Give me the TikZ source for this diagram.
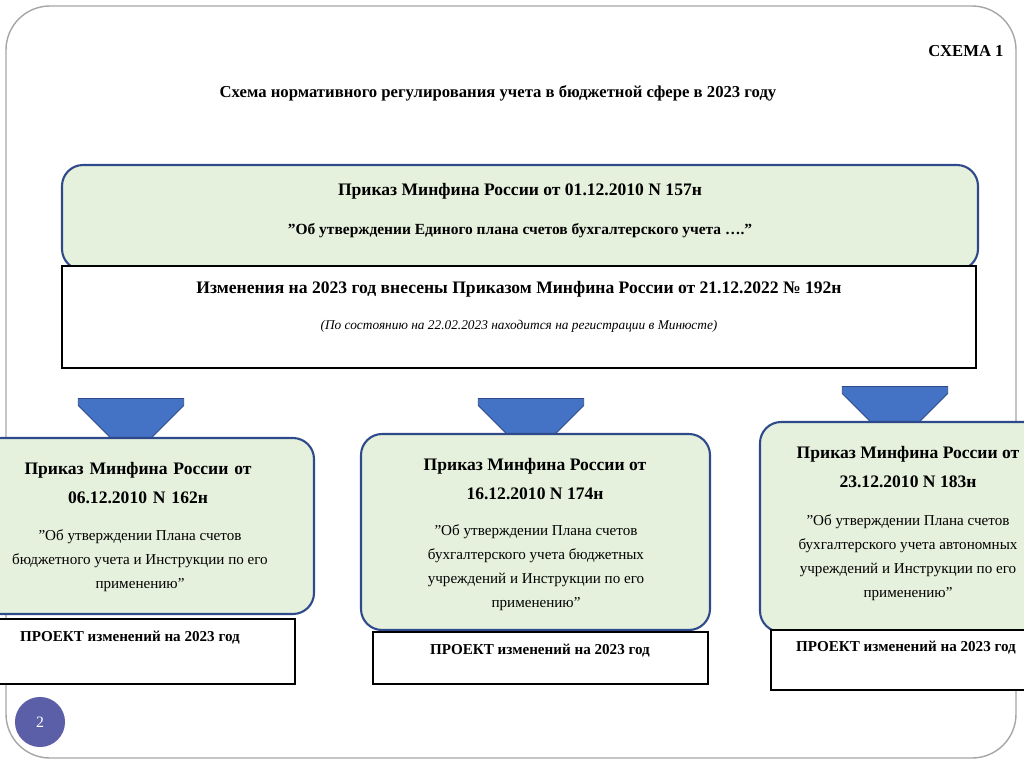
\documentclass[tikz,border=0pt]{standalone}
\usepackage{fontspec}
\setmainfont{Liberation Serif}
\usetikzlibrary{shapes.arrows}
\definecolor{gfill}{HTML}{E6F1DD}
\definecolor{gbord}{HTML}{2E4A8A}
\definecolor{ablue}{HTML}{4472C4}
\definecolor{circ}{HTML}{5A5FA8}
\tikzset{
 gbox/.style={draw=gbord,fill=gfill,line width=1.2pt,rounded corners=12pt},
 wbox/.style={draw=black,fill=white,line width=0.6pt},
 bt/.style={font=\bfseries\fontsize{10}{12}\selectfont,align=center},
 nt/.style={font=\fontsize{8.6}{13.6}\selectfont,align=center},
 arr/.style={single arrow,shape border rotate=270,fill=ablue,draw=gbord,line width=0.5pt,minimum width=60pt,minimum height=34pt,single arrow head extend=0pt,inner sep=0pt}
}
\begin{document}
\begin{tikzpicture}[x=0.02cm,y=-0.02cm]
\useasboundingbox (0,0) rectangle (1024,767);
\clip (0,0) rectangle (1024,767);
\draw[gray!70,line width=0.8pt,rounded corners=25pt] (6,6) rectangle (1016,758);
\node[font=\bfseries\fontsize{9.5}{11}\selectfont] (schema) at (966,51) {СХЕМА 1};
\node[font=\bfseries\fontsize{9.5}{11}\selectfont] (title) at (498,93) {Схема нормативного регулирования учета в бюджетной сфере в 2023 году};
% top
\draw[gbox] (62,165) rectangle (978,270);
\node[bt] (t1) at (520,191) {Приказ Минфина России от 01.12.2010 N 157н};
\node[font=\bfseries\fontsize{8.8}{11}\selectfont] (t2) at (520,231) {"Об утверждении Единого плана счетов бухгалтерского учета \dots."};
\draw[wbox] (62,266) rectangle (976,368);
\node[bt] (t3) at (519,289) {Изменения на 2023 год внесены Приказом Минфина России от 21.12.2022 № 192н};
\node[font=\itshape\fontsize{7.6}{9}\selectfont] (t4) at (519,326) {(По состоянию на 22.02.2023 находится на регистрации в Минюсте)};
% arrows
\node[arr] (a1) at (131,402) {};
\node[arr] (a2) at (531,402) {};
\node[arr] (a3) at (895,390) {};
% left
\draw[gbox] (-20,438) rectangle (314,614);
\node[bt,text width=300pt/1.6] (l1) at (138,483) {Приказ Минфина России от\\[4pt]06.12.2010 N 162н};
\node[nt] (l2) at (140,561) {"Об утверждении Плана счетов\\бюджетного учета и Инструкции по его\\применению"};
\draw[wbox] (-5,619) rectangle (295,684);
\node[font=\bfseries\fontsize{8.6}{10}\selectfont] (l3) at (130,638) {ПРОЕКТ изменений на 2023 год};
% middle
\draw[gbox] (361,434) rectangle (710,630);
\node[bt] (m1) at (535,479) {Приказ Минфина России от\\[4pt]16.12.2010 N 174н};
\node[nt] (m2) at (536,568) {"Об утверждении Плана счетов\\бухгалтерского учета бюджетных\\учреждений и Инструкции по его\\применению"};
\draw[wbox] (373,632) rectangle (708,684);
\node[font=\bfseries\fontsize{8.6}{10}\selectfont] (m3) at (540,651) {ПРОЕКТ изменений на 2023 год};
% right
\draw[gbox] (760,422) rectangle (1045,632);
\node[bt] (r1) at (908,467) {Приказ Минфина России от\\[4pt]23.12.2010 N 183н};
\node[nt] (r2) at (908,558) {"Об утверждении Плана счетов\\бухгалтерского учета автономных\\учреждений и Инструкции по его\\применению"};
\draw[wbox] (771,630) rectangle (1040,690);
\node[font=\bfseries\fontsize{8.6}{10}\selectfont] (r3) at (906,648) {ПРОЕКТ изменений на 2023 год};
% page number
\node[circle,fill=circ,minimum size=50pt*0.57,text=white,font=\fontsize{9}{10}\selectfont] (pg) at (40,722) {2};
\end{tikzpicture}
\end{document}
